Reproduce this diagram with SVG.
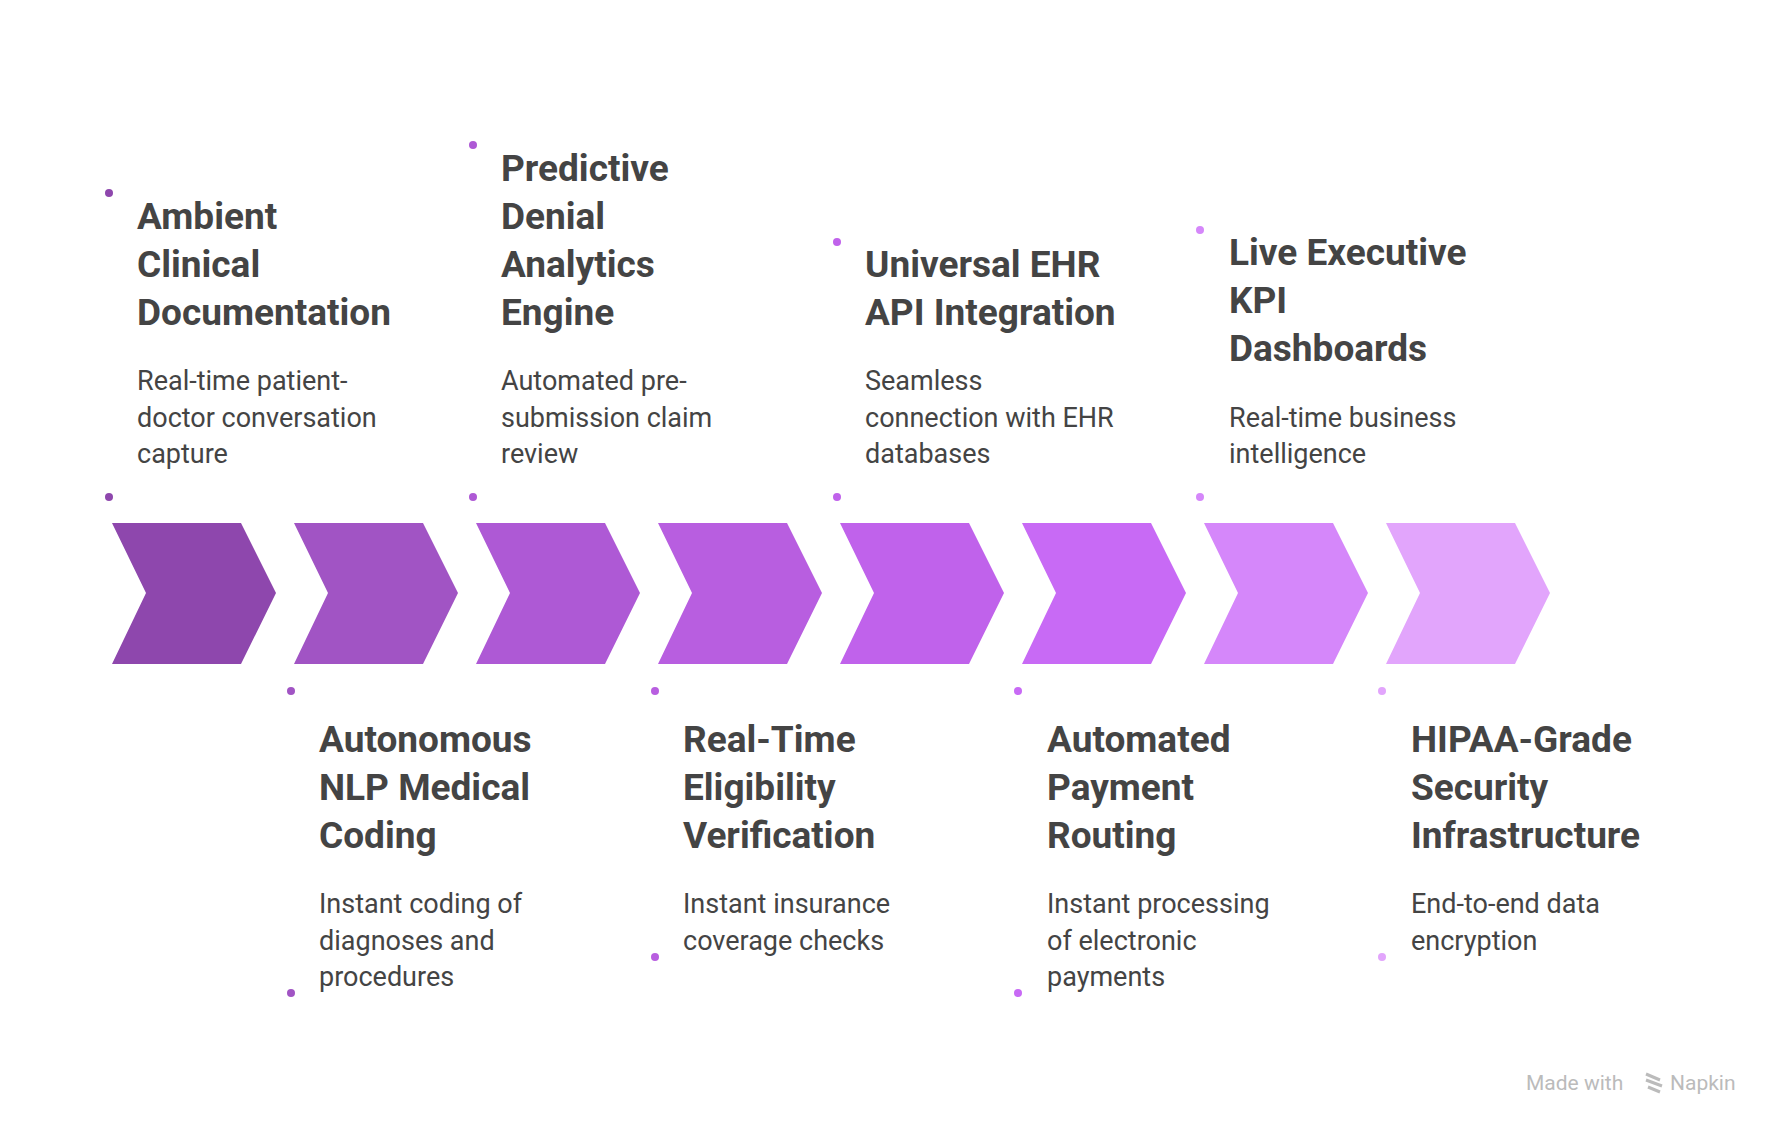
<svg xmlns="http://www.w3.org/2000/svg" width="1776" height="1128" viewBox="0 0 1776 1128">
<style>
.t{font-family:Roboto,"Liberation Sans",sans-serif;font-weight:700;font-size:37px;fill:#444}
.b{font-family:Roboto,"Liberation Sans",sans-serif;font-size:27px;fill:#444}
.w{font-family:Roboto,"Liberation Sans",sans-serif;font-size:21px;fill:#bbb}
</style>
<defs><path id="ch" d="M0,0 H129 L164,70 L129,141 H0 L34,70 Z"/></defs>
<rect width="1776" height="1128" fill="#fff"/>
<g id="connectors">
<use href="#ch" x="112" y="523" fill="#8E47AD"/>
<use href="#ch" x="294" y="523" fill="#A154C4"/>
<use href="#ch" x="476" y="523" fill="#AE59D5"/>
<use href="#ch" x="658" y="523" fill="#B85EE0"/>
<use href="#ch" x="840" y="523" fill="#C062EB"/>
<use href="#ch" x="1022" y="523" fill="#C86AF5"/>
<use href="#ch" x="1204" y="523" fill="#D587FA"/>
<use href="#ch" x="1386" y="523" fill="#E2A5FC"/>
</g>
<g id="n1">
<circle cx="109" cy="193" r="4" fill="#8E47AD"/><circle cx="109" cy="497" r="4" fill="#8E47AD"/>
<text class="t" x="137"><tspan x="137" y="229">Ambient</tspan><tspan x="137" y="277">Clinical</tspan><tspan x="137" y="325">Documentation</tspan></text>
<text class="b"><tspan x="137" y="390">Real-time patient-</tspan><tspan x="137" y="427">doctor conversation</tspan><tspan x="137" y="463">capture</tspan></text>
</g>
<g id="n2">
<circle cx="291" cy="691" r="4" fill="#A154C4"/><circle cx="291" cy="993" r="4" fill="#A154C4"/>
<text class="t"><tspan x="319" y="752">Autonomous</tspan><tspan x="319" y="800">NLP Medical</tspan><tspan x="319" y="848">Coding</tspan></text>
<text class="b"><tspan x="319" y="913">Instant coding of</tspan><tspan x="319" y="950">diagnoses and</tspan><tspan x="319" y="986">procedures</tspan></text>
</g>
<g id="n3">
<circle cx="473" cy="145" r="4" fill="#AE59D5"/><circle cx="473" cy="497" r="4" fill="#AE59D5"/>
<text class="t"><tspan x="501" y="181">Predictive</tspan><tspan x="501" y="229">Denial</tspan><tspan x="501" y="277">Analytics</tspan><tspan x="501" y="325">Engine</tspan></text>
<text class="b"><tspan x="501" y="390">Automated pre-</tspan><tspan x="501" y="427">submission claim</tspan><tspan x="501" y="463">review</tspan></text>
</g>
<g id="n4">
<circle cx="655" cy="691" r="4" fill="#B85EE0"/><circle cx="655" cy="957" r="4" fill="#B85EE0"/>
<text class="t"><tspan x="683" y="752">Real-Time</tspan><tspan x="683" y="800">Eligibility</tspan><tspan x="683" y="848">Verification</tspan></text>
<text class="b"><tspan x="683" y="913">Instant insurance</tspan><tspan x="683" y="950">coverage checks</tspan></text>
</g>
<g id="n5">
<circle cx="837" cy="242" r="4" fill="#C062EB"/><circle cx="837" cy="497" r="4" fill="#C062EB"/>
<text class="t"><tspan x="865" y="277">Universal EHR</tspan><tspan x="865" y="325">API Integration</tspan></text>
<text class="b"><tspan x="865" y="390">Seamless</tspan><tspan x="865" y="427">connection with EHR</tspan><tspan x="865" y="463">databases</tspan></text>
</g>
<g id="n6">
<circle cx="1018" cy="691" r="4" fill="#C86AF5"/><circle cx="1018" cy="993" r="4" fill="#C86AF5"/>
<text class="t"><tspan x="1047" y="752">Automated</tspan><tspan x="1047" y="800">Payment</tspan><tspan x="1047" y="848">Routing</tspan></text>
<text class="b"><tspan x="1047" y="913">Instant processing</tspan><tspan x="1047" y="950">of electronic</tspan><tspan x="1047" y="986">payments</tspan></text>
</g>
<g id="n7">
<circle cx="1200" cy="230" r="4" fill="#D587FA"/><circle cx="1200" cy="497" r="4" fill="#D587FA"/>
<text class="t"><tspan x="1229" y="265">Live Executive</tspan><tspan x="1229" y="313">KPI</tspan><tspan x="1229" y="361">Dashboards</tspan></text>
<text class="b"><tspan x="1229" y="427">Real-time business</tspan><tspan x="1229" y="463">intelligence</tspan></text>
</g>
<g id="n8">
<circle cx="1382" cy="691" r="4" fill="#E2A5FC"/><circle cx="1382" cy="957" r="4" fill="#E2A5FC"/>
<text class="t"><tspan x="1411" y="752">HIPAA-Grade</tspan><tspan x="1411" y="800">Security</tspan><tspan x="1411" y="848">Infrastructure</tspan></text>
<text class="b"><tspan x="1411" y="913">End-to-end data</tspan><tspan x="1411" y="950">encryption</tspan></text>
</g>
<g id="watermark">
<text class="w" x="1526" y="1090">Made with</text>
<path d="M1646,1074 l14,6 M1646,1080 l16,6 M1648,1087 l12,5" stroke="#bbb" stroke-width="3" fill="none"/>
<text class="w" x="1670" y="1090">Napkin</text>
</g>
</svg>
